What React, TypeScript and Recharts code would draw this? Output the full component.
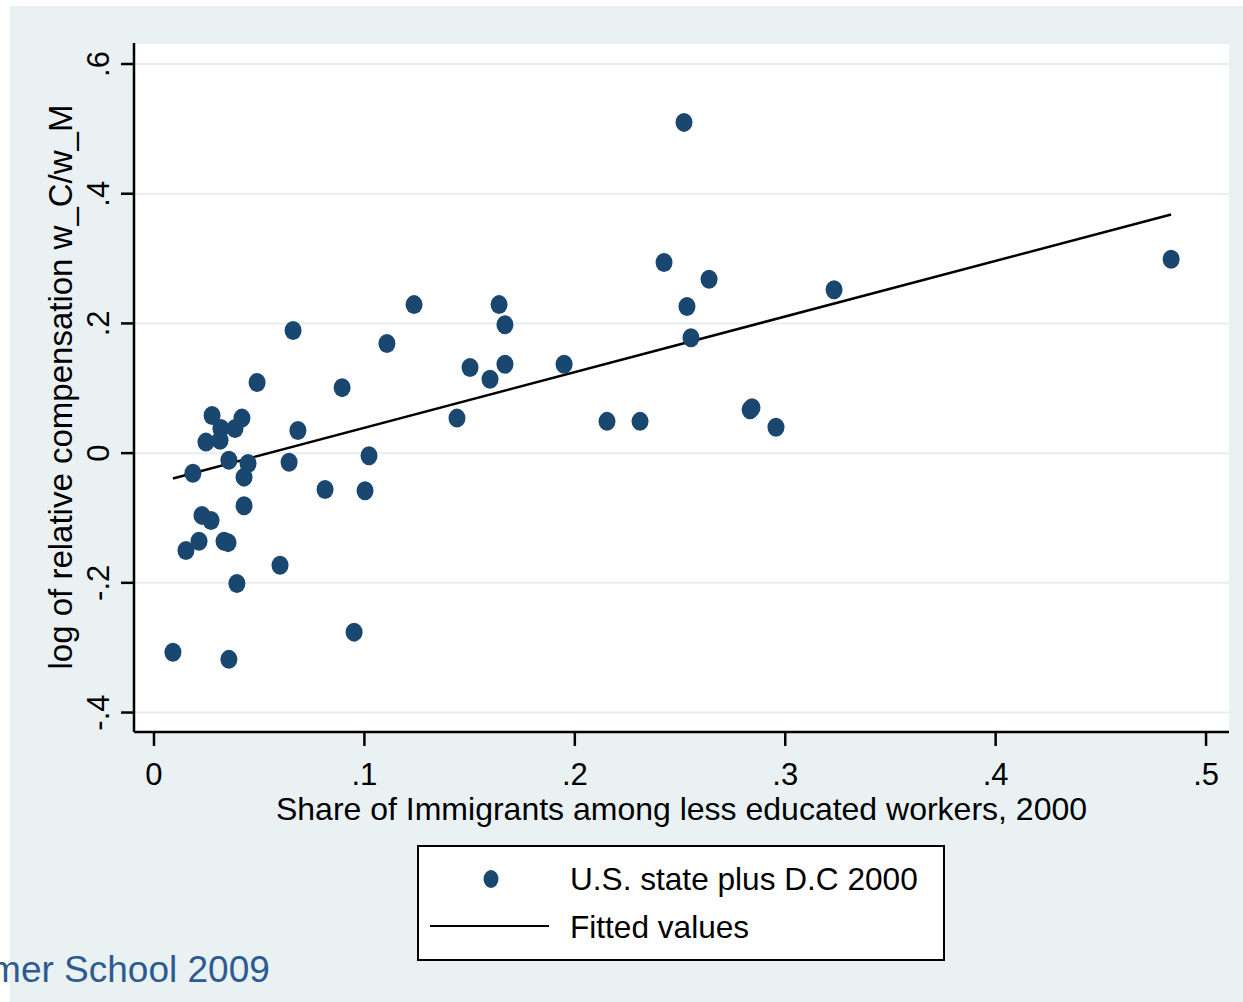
import { ScatterChart, Scatter, XAxis, YAxis, CartesianGrid } from "recharts";

// share of immigrants among less educated workers (x) and log relative compensation (y)
const shareImmigrants = [
  0.2519, 0.4834, 0.2424, 0.2638, 0.3232, 0.1236, 0.164, 0.2533, 0.0661, 0.1668,
  0.2552, 0.1107, 0.1949, 0.1502, 0.1668, 0.1597, 0.049, 0.0894, 0.0276, 0.0418,
  0.144, 0.2153, 0.231, 0.2833, 0.2842, 0.2956, 0.0318, 0.0385, 0.0684, 0.0247,
  0.0314, 0.1022, 0.0356, 0.0447, 0.0642, 0.0185, 0.0428, 0.0813, 0.1003, 0.0428,
  0.0228, 0.0271, 0.0214, 0.0333, 0.0352, 0.0152, 0.0599, 0.0394, 0.0951, 0.009,
  0.0356,
];
const logRelComp = [
  0.51, 0.299, 0.294, 0.268, 0.252, 0.229, 0.229, 0.226, 0.189, 0.198,
  0.178, 0.169, 0.137, 0.132, 0.137, 0.114, 0.109, 0.101, 0.058, 0.054,
  0.054, 0.049, 0.049, 0.067, 0.07, 0.04, 0.038, 0.038, 0.035, 0.017,
  0.02, -0.004, -0.011, -0.016, -0.014, -0.031, -0.037, -0.056, -0.058, -0.081,
  -0.096, -0.104, -0.136, -0.136, -0.138, -0.15, -0.173, -0.201, -0.276, -0.307,
  -0.318,
];

// fitted values line endpoints
const fitX = [0.009, 0.4834];
const fitY = [-0.039, 0.368];

const xTicks = [0, 0.1, 0.2, 0.3, 0.4, 0.5];
const xTickLabels = ["0", ".1", ".2", ".3", ".4", ".5"];
const yTicks = [-0.4, -0.2, 0, 0.2, 0.4, 0.6];
const yTickLabels = ["-.4", "-.2", "0", ".2", ".4", ".6"];

const states = shareImmigrants.map((x, i) => ({ x, y: logRelComp[i] }));
const fitted = fitX.map((x, i) => ({ x, y: fitY[i] }));

const FONT = '"Liberation Sans", Arial, sans-serif';
const NAVY = "#1a476f";

const XTick = (props: any) => {
  const { x, payload } = props;
  const lbl = xTickLabels[xTicks.indexOf(payload.value)];
  return (
    <text x={x} y={785} textAnchor="middle" fontSize={31} fontFamily={FONT} fill="#000">
      {lbl}
    </text>
  );
};

const YTick = (props: any) => {
  const { y, payload } = props;
  const lbl = yTickLabels[yTicks.indexOf(payload.value)];
  return (
    <text
      x={109}
      y={y}
      transform={`rotate(-90 109 ${y})`}
      textAnchor="middle"
      fontSize={31}
      fontFamily={FONT}
      fill="#000"
    >
      {lbl}
    </text>
  );
};

const Dot = (props: any) => <ellipse cx={props.cx} cy={props.cy} rx={8.5} ry={9.5} fill={NAVY} />;

export default function App() {
  return (
    <div style={{ position: "absolute", left: 0, top: 0, width: 1243, height: 1002, background: "#fff", overflow: "hidden" }}>
      <div style={{ position: "absolute", left: 10, top: 6, width: 1233, height: 996, background: "#e9f1f3" }} />
      <div style={{ position: "absolute", left: 0, top: 0 }}>
        <ScatterChart width={1243} height={1002} margin={{ top: 43, right: 14, left: 0, bottom: 0 }}>
          <CartesianGrid vertical={false} fill="#fff" stroke="#e6eef1" strokeWidth={2} />
          <XAxis
            type="number"
            dataKey="x"
            domain={[-0.0095, 0.5109]}
            ticks={xTicks}
            allowDataOverflow
            height={270}
            tickSize={14}
            axisLine={{ stroke: "#000", strokeWidth: 2.5 }}
            tickLine={{ stroke: "#000", strokeWidth: 2.5 }}
            tick={(p: any) => <XTick {...p} />}
          />
          <YAxis
            type="number"
            dataKey="y"
            domain={[-0.43, 0.6324]}
            ticks={yTicks}
            allowDataOverflow
            width={134}
            tickSize={13}
            axisLine={{ stroke: "#000", strokeWidth: 2.5 }}
            tickLine={{ stroke: "#000", strokeWidth: 2.5 }}
            tick={(p: any) => <YTick {...p} />}
          />
          <Scatter
            data={fitted}
            isAnimationActive={false}
            line={{ stroke: "#000", strokeWidth: 2.5 }}
            shape={() => <g />}
          />
          <Scatter data={states} isAnimationActive={false} shape={Dot} />
        </ScatterChart>
      </div>
      <svg style={{ position: "absolute", left: 0, top: 0 }} width={1243} height={1002} pointerEvents="none">
        <text x={681.5} y={820} textAnchor="middle" fontSize={32} fontFamily={FONT} fill="#000">
          Share of Immigrants among less educated workers, 2000
        </text>
        <text
          x={72}
          y={387}
          transform="rotate(-90 72 387)"
          textAnchor="middle"
          fontSize={33}
          fontFamily={FONT}
          fill="#000"
        >
          log of relative compensation w_C/w_M
        </text>
      </svg>
      <div
        style={{
          position: "absolute",
          left: 417,
          top: 845,
          width: 528,
          height: 116,
          boxSizing: "border-box",
          border: "2px solid #000",
          background: "#fff",
          fontFamily: FONT,
          fontSize: 31.6,
        }}
      >
        <svg style={{ position: "absolute", left: 0, top: 0 }} width={524} height={112}>
          <ellipse cx={72} cy={32} rx={7.5} ry={9} fill={NAVY} />
          <line x1={11} x2={130} y1={79} y2={79} stroke="#000" strokeWidth={2} />
        </svg>
        <div style={{ position: "absolute", left: 151, top: 12, lineHeight: "40px", whiteSpace: "nowrap" }}>
          U.S. state plus D.C 2000
        </div>
        <div style={{ position: "absolute", left: 151, top: 60, lineHeight: "40px", whiteSpace: "nowrap" }}>
          Fitted values
        </div>
      </div>
      <div
        style={{
          position: "absolute",
          left: -86,
          top: 948,
          fontFamily: FONT,
          fontSize: 37,
          lineHeight: "44px",
          color: "#2c5a92",
          whiteSpace: "nowrap",
        }}
      >
        Summer School 2009
      </div>
    </div>
  );
}
